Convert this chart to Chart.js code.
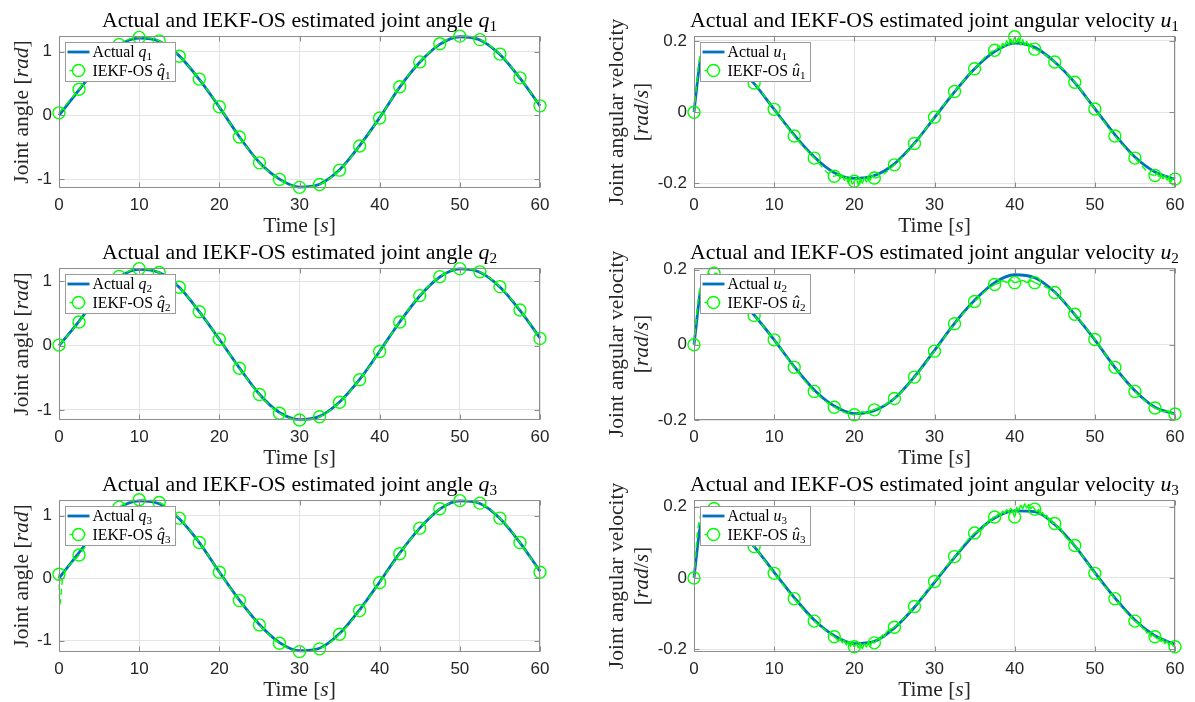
<!DOCTYPE html>
<html>
<head>
<meta charset="utf-8">
<script src="https://cdn.jsdelivr.net/npm/chart.js@4/dist/chart.umd.min.js"></script>
<style>
  body { margin: 0; background: #fff; overflow: hidden; }
  #fig { position: relative; width: 1195px; height: 702px; background: #fff; overflow: hidden; }
  #fig canvas { position: absolute; }
</style>
</head>
<body>
<div id="fig"></div>
<script>
// ---- data ----
const tMark = [0, 2.5, 5, 7.5, 10, 12.5, 15, 17.5, 20, 22.5, 25, 27.5, 30, 32.5, 35, 37.5, 40, 42.5, 45, 47.5, 50, 52.5, 55, 57.5, 60];
const xTicks = [0, 10, 20, 30, 40, 50, 60];
const xTickLabels = ['0', '10', '20', '30', '40', '50', '60'];
const qTicks = [-1, 0, 1];
const qTickLabels = ['-1', '0', '1'];
const uTicks = [-0.2, 0, 0.2];
const uTickLabels = ['-0.2', '0', '0.2'];

const q1Act = [0.0, 0.40, 0.79, 1.10, 1.215, 1.165, 0.935, 0.565, 0.13, -0.335, -0.74, -1.0, -1.125, -1.08, -0.855, -0.475, -0.035, 0.445, 0.835, 1.115, 1.235, 1.185, 0.955, 0.585, 0.15];
const q1Est = [0.04, 0.41, 0.79, 1.115, 1.225, 1.17, 0.93, 0.57, 0.135, -0.34, -0.745, -1.005, -1.13, -1.085, -0.86, -0.48, -0.04, 0.45, 0.84, 1.125, 1.245, 1.19, 0.963, 0.59, 0.15];

const q2Act = [0.0, 0.38, 0.78, 1.07, 1.19, 1.14, 0.91, 0.53, 0.1, -0.345, -0.755, -1.04, -1.15, -1.1, -0.875, -0.525, -0.085, 0.37, 0.775, 1.07, 1.195, 1.145, 0.915, 0.55, 0.12];
const q2Est = [0.01, 0.37, 0.78, 1.08, 1.2, 1.14, 0.91, 0.53, 0.1, -0.35, -0.76, -1.05, -1.157, -1.106, -0.88, -0.53, -0.09, 0.37, 0.78, 1.075, 1.2, 1.15, 0.92, 0.556, 0.114];

const q3Act = [0.0, 0.41, 0.82, 1.12, 1.235, 1.19, 0.95, 0.57, 0.1, -0.35, -0.74, -1.03, -1.16, -1.12, -0.885, -0.505, -0.06, 0.4, 0.8, 1.105, 1.235, 1.195, 0.955, 0.57, 0.11];
const q3Est = [0.064, 0.37, 0.8, 1.136, 1.253, 1.21, 0.96, 0.57, 0.096, -0.358, -0.747, -1.04, -1.174, -1.13, -0.896, -0.518, -0.07, 0.39, 0.8, 1.109, 1.24, 1.2, 0.96, 0.57, 0.096];
const q3EstStart = [[0.1, -0.42], [0.4, -0.05], [0.8, 0.12], [1.25, 0.2]];

const u1Act = [0, 0.176, 0.136, 0.08, 0.008, -0.064, -0.126, -0.17, -0.186, -0.178, -0.145, -0.087, -0.015, 0.057, 0.122, 0.17, 0.194, 0.182, 0.141, 0.083, 0.01, -0.063, -0.126, -0.168, -0.188];
const u1Est = [0, 0.175, 0.135, 0.082, 0.008, -0.067, -0.129, -0.18, -0.194, -0.185, -0.148, -0.088, -0.014, 0.058, 0.122, 0.174, 0.212, 0.177, 0.141, 0.084, 0.009, -0.067, -0.129, -0.178, -0.188];

const u2Act = [0, 0.178, 0.138, 0.079, 0.013, -0.058, -0.12, -0.163, -0.183, -0.175, -0.143, -0.085, -0.015, 0.057, 0.118, 0.165, 0.186, 0.178, 0.14, 0.08, 0.013, -0.06, -0.122, -0.166, -0.184];
const u2Est = [0, 0.19, 0.14, 0.078, 0.013, -0.06, -0.124, -0.166, -0.186, -0.173, -0.143, -0.086, -0.017, 0.056, 0.115, 0.16, 0.165, 0.165, 0.139, 0.081, 0.014, -0.06, -0.124, -0.168, -0.184];

const u3Act = [0, 0.182, 0.148, 0.088, 0.016, -0.055, -0.118, -0.162, -0.184, -0.178, -0.14, -0.082, -0.012, 0.058, 0.122, 0.168, 0.188, 0.186, 0.15, 0.09, 0.015, -0.056, -0.118, -0.162, -0.186];
const u3Est = [0, 0.195, 0.15, 0.088, 0.013, -0.058, -0.121, -0.165, -0.193, -0.182, -0.138, -0.08, -0.01, 0.06, 0.126, 0.171, 0.171, 0.193, 0.153, 0.091, 0.013, -0.058, -0.121, -0.165, -0.193];

// fast start of the velocities (t = 0.25 .. 1.5 s)
const tRise = [0.25, 0.5, 0.75, 1, 1.5];
const u1ActRise = [0.05, 0.1, 0.14, 0.165, 0.178];
const u1EstRise = [0.06, 0.12, 0.158, 0.172, 0.18];
const u2ActRise = [0.045, 0.095, 0.135, 0.16, 0.176];
const u2EstRise = [0.06, 0.115, 0.152, 0.17, 0.185];
const u3ActRise = [0.05, 0.1, 0.14, 0.165, 0.18];
const u3EstRise = [0.08, 0.14, 0.17, 0.18, 0.188];

// jitter of the estimates around the extrema
const u1Noise = [[18, -0.174], [18.25, -0.186], [18.5, -0.176], [18.75, -0.192], [19, -0.181], [19.25, -0.199], [19.5, -0.184], [19.75, -0.202],
  [20.25, -0.185], [20.5, -0.205], [20.75, -0.187], [21, -0.2], [21.25, -0.183], [21.5, -0.196], [21.75, -0.18], [22, -0.191], [22.25, -0.177],
  [37.75, 0.175], [38, 0.187], [38.25, 0.178], [38.5, 0.194], [38.75, 0.183], [39, 0.201], [39.25, 0.187], [39.5, 0.206], [39.75, 0.191],
  [40.25, 0.197], [40.5, 0.209], [40.75, 0.189], [41, 0.204], [41.25, 0.187], [41.5, 0.199], [41.75, 0.184], [42, 0.193], [42.25, 0.179],
  [57.75, -0.171], [58, -0.181], [58.25, -0.173], [58.5, -0.187], [58.75, -0.177], [59, -0.191], [59.25, -0.181], [59.5, -0.196], [59.75, -0.185]];
const u2Noise = [[20.5, -0.183], [21, -0.178], [21.5, -0.182], [22, -0.176],
  [38, 0.163], [38.5, 0.17], [39, 0.166], [39.5, 0.172], [40.5, 0.168], [41, 0.171], [41.5, 0.166], [42, 0.17],
  [58, -0.172], [58.5, -0.178], [59, -0.176], [59.5, -0.182]];
const u3Noise = [[17.75, -0.17], [18, -0.176], [18.25, -0.168], [18.5, -0.182], [18.75, -0.174], [19, -0.188], [19.25, -0.178], [19.5, -0.192],
  [19.75, -0.18], [20.25, -0.184], [20.5, -0.196], [20.75, -0.182], [21, -0.198], [21.25, -0.184], [21.5, -0.194], [21.75, -0.178], [22, -0.19],
  [22.25, -0.176], [22.75, -0.176], [23, -0.168], [23.25, -0.172], [23.5, -0.16], [23.75, -0.164], [24, -0.152],
  [36, 0.138], [36.25, 0.15], [36.5, 0.148], [36.75, 0.162], [37, 0.158], [37.25, 0.168], [37.75, 0.172], [38, 0.18], [38.25, 0.174],
  [38.5, 0.188], [38.75, 0.18], [39, 0.192], [39.25, 0.184], [39.5, 0.196], [39.75, 0.186], [40.25, 0.198], [40.5, 0.19], [40.75, 0.204],
  [41, 0.194], [41.25, 0.208], [41.5, 0.196], [41.75, 0.206], [42, 0.194], [42.25, 0.2], [42.75, 0.186], [43, 0.192], [43.25, 0.178],
  [43.5, 0.184], [43.75, 0.17], [44, 0.176], [44.25, 0.162], [44.5, 0.166], [44.75, 0.154], [45.25, 0.146], [45.5, 0.138], [45.75, 0.14], [46, 0.126],
  [55.25, -0.124], [55.5, -0.13], [55.75, -0.134], [56, -0.142], [56.25, -0.144], [56.5, -0.155], [56.75, -0.152], [57, -0.164], [57.25, -0.16],
  [57.75, -0.17], [58, -0.166], [58.25, -0.178], [58.5, -0.172], [58.75, -0.184], [59, -0.176], [59.25, -0.188], [59.5, -0.18], [59.75, -0.19]];

// ---- style ----
const BLUE = '#0072BD';
const GREEN = '#00FF00';
const BOX = '#8c8c8c';
const GRID = '#e4e4e4';
const TXT = '#262626';
const SERIF = '"Liberation Serif", "Times New Roman", serif';
const SANS = '"Liberation Sans", Arial, sans-serif';
const TITLE_SIZE = 21.8;
const LABEL_SIZE = 21.5;
const LEG_SIZE = 15.8;

function pts(ts, vs, mark) {
  return ts.map((t, i) => ({ x: t, y: vs[i], m: mark, n: false }));
}
function merge(...lists) {
  return [].concat(...lists).sort((a, b) => a.x - b.x);
}
function pairs(list, noisy) {
  return list.map(p => ({ x: p[0], y: p[1], m: false, n: noisy }));
}

// rich text: [text, kind]  kind: r roman, i italic, sub subscript, hat italic with circumflex
function fontFor(kind, size) {
  if (kind === 'i' || kind === 'hat') return 'italic ' + size + 'px ' + SERIF;
  if (kind === 'sub') return (size * 0.7).toFixed(1) + 'px ' + SERIF;
  return size + 'px ' + SERIF;
}
function richWidth(ctx, parts, size) {
  let w = 0;
  parts.forEach(([t, k]) => { ctx.font = fontFor(k, size); w += ctx.measureText(t).width; });
  return w;
}
function drawRich(ctx, parts, x, y, size, align) {
  let cx = align === 'center' ? x - richWidth(ctx, parts, size) / 2 : x;
  ctx.textBaseline = 'alphabetic';
  ctx.textAlign = 'left';
  parts.forEach(([t, k]) => {
    ctx.font = fontFor(k, size);
    const w = ctx.measureText(t).width;
    const dy = k === 'sub' ? size * 0.2 : 0;
    ctx.fillText(t, cx, y + dy);
    if (k === 'hat') {
      ctx.font = size + 'px ' + SERIF;
      const hw = ctx.measureText('\u02C6').width;
      ctx.fillText('\u02C6', cx + w / 2 - hw / 2 + size * 0.06, y - size * 0.02);
    }
    cx += w;
  });
}

function sub(n) { return [String(n), 'sub']; }

const panels = [
  { cell: { x: 0, y: 0, w: 590, h: 250 }, plot: { L: 59, R: 540, T: 36, B: 188 }, yMin: -1.14, yMax: 1.247,
    yTicks: qTicks, yTickLabels: qTickLabels,
    title: [['Actual and IEKF-OS estimated joint angle ', 'r'], ['q', 'i'], sub(1)],
    ylabel: [[['Joint angle [', 'r'], ['rad', 'i'], [']', 'r']]],
    leg1: [['Actual ', 'r'], ['q', 'i'], sub(1)], leg2: [['IEKF-OS ', 'r'], ['q', 'hat'], sub(1)],
    act: pts(tMark, q1Act, false), est: pts(tMark, q1Est, true) },
  { cell: { x: 590, y: 0, w: 605, h: 250 }, plot: { L: 694, R: 1175, T: 36, B: 188 }, yMin: -0.213, yMax: 0.214,
    yTicks: uTicks, yTickLabels: uTickLabels,
    title: [['Actual and IEKF-OS estimated joint angular velocity ', 'r'], ['u', 'i'], sub(1)],
    ylabel: [[['Joint angular velocity', 'r']], [['[', 'r'], ['rad', 'i'], ['/', 'r'], ['s', 'i'], [']', 'r']]],
    leg1: [['Actual ', 'r'], ['u', 'i'], sub(1)], leg2: [['IEKF-OS ', 'r'], ['u', 'hat'], sub(1)],
    act: merge(pts(tMark, u1Act, false), pts(tRise, u1ActRise, false)),
    est: merge(pts(tMark, u1Est, true), pts(tRise, u1EstRise, false), pairs(u1Noise, true)) },
  { cell: { x: 0, y: 234, w: 590, h: 250 }, plot: { L: 59, R: 540, T: 268, B: 420 }, yMin: -1.156, yMax: 1.21,
    yTicks: qTicks, yTickLabels: qTickLabels,
    title: [['Actual and IEKF-OS estimated joint angle ', 'r'], ['q', 'i'], sub(2)],
    ylabel: [[['Joint angle [', 'r'], ['rad', 'i'], [']', 'r']]],
    leg1: [['Actual ', 'r'], ['q', 'i'], sub(2)], leg2: [['IEKF-OS ', 'r'], ['q', 'hat'], sub(2)],
    act: pts(tMark, q2Act, false), est: pts(tMark, q2Est, true) },
  { cell: { x: 590, y: 234, w: 605, h: 250 }, plot: { L: 694, R: 1175, T: 268, B: 420 }, yMin: -0.2, yMax: 0.204,
    yTicks: uTicks, yTickLabels: uTickLabels,
    title: [['Actual and IEKF-OS estimated joint angular velocity ', 'r'], ['u', 'i'], sub(2)],
    ylabel: [[['Joint angular velocity', 'r']], [['[', 'r'], ['rad', 'i'], ['/', 'r'], ['s', 'i'], [']', 'r']]],
    leg1: [['Actual ', 'r'], ['u', 'i'], sub(2)], leg2: [['IEKF-OS ', 'r'], ['u', 'hat'], sub(2)],
    act: merge(pts(tMark, u2Act, false), pts(tRise, u2ActRise, false)),
    est: merge(pts(tMark, u2Est, true), pts(tRise, u2EstRise, false), pairs(u2Noise, true)) },
  { cell: { x: 0, y: 468, w: 590, h: 234 }, plot: { L: 59, R: 540, T: 500, B: 652 }, yMin: -1.18, yMax: 1.25,
    yTicks: qTicks, yTickLabels: qTickLabels,
    title: [['Actual and IEKF-OS estimated joint angle ', 'r'], ['q', 'i'], sub(3)],
    ylabel: [[['Joint angle [', 'r'], ['rad', 'i'], [']', 'r']]],
    leg1: [['Actual ', 'r'], ['q', 'i'], sub(3)], leg2: [['IEKF-OS ', 'r'], ['q', 'hat'], sub(3)],
    act: pts(tMark, q3Act, false), est: merge(pts(tMark, q3Est, true), pairs(q3EstStart, false)) },
  { cell: { x: 590, y: 468, w: 605, h: 234 }, plot: { L: 694, R: 1175, T: 500, B: 652 }, yMin: -0.2076, yMax: 0.2187,
    yTicks: uTicks, yTickLabels: uTickLabels,
    title: [['Actual and IEKF-OS estimated joint angular velocity ', 'r'], ['u', 'i'], sub(3)],
    ylabel: [[['Joint angular velocity', 'r']], [['[', 'r'], ['rad', 'i'], ['/', 'r'], ['s', 'i'], [']', 'r']]],
    leg1: [['Actual ', 'r'], ['u', 'i'], sub(3)], leg2: [['IEKF-OS ', 'r'], ['u', 'hat'], sub(3)],
    act: merge(pts(tMark, u3Act, false), pts(tRise, u3ActRise, false)),
    est: merge(pts(tMark, u3Est, true), pts(tRise, u3EstRise, false), pairs(u3Noise, true)) }
];

// box, inner ticks, legend and LaTeX-like labels
function decor(p) {
  return {
    id: 'decor',
    afterDraw(chart) {
      const ctx = chart.ctx;
      const a = chart.chartArea;
      const xs = chart.scales.x, ys = chart.scales.y;
      ctx.save();

      // axes box + inward ticks
      ctx.strokeStyle = BOX;
      ctx.lineWidth = 1;
      const l = Math.round(a.left) + 0.5, r = Math.round(a.right) - 0.5;
      const t = Math.round(a.top) + 0.5, b = Math.round(a.bottom) - 0.5;
      ctx.beginPath();
      xTicks.forEach(v => {
        const px = Math.round(xs.getPixelForValue(v)) + 0.5;
        ctx.moveTo(px, b); ctx.lineTo(px, b - 5);
        ctx.moveTo(px, t); ctx.lineTo(px, t + 5);
      });
      p.yTicks.forEach(v => {
        const py = Math.round(ys.getPixelForValue(v)) + 0.5;
        ctx.moveTo(l, py); ctx.lineTo(l + 5, py);
        ctx.moveTo(r, py); ctx.lineTo(r - 5, py);
      });
      ctx.stroke();
      ctx.strokeRect(l, t, r - l, b - t);

      // legend
      const tw = Math.max(richWidth(ctx, p.leg1, LEG_SIZE), richWidth(ctx, p.leg2, LEG_SIZE));
      const bx = Math.round(a.left) + 6.5, by = Math.round(a.top) + 6.5;
      const bw = Math.round(27 + tw + 5), bh = 39;
      ctx.fillStyle = '#fff';
      ctx.fillRect(bx, by, bw, bh);
      ctx.strokeStyle = '#9a9a9a';
      ctx.strokeRect(bx, by, bw, bh);
      const r1 = by + 9.5, r2 = by + 28;
      ctx.strokeStyle = BLUE; ctx.lineWidth = 2.8;
      ctx.beginPath(); ctx.moveTo(bx + 2, r1); ctx.lineTo(bx + 24, r1); ctx.stroke();
      ctx.strokeStyle = GREEN; ctx.lineWidth = 1.4;
      ctx.setLineDash([6, 4]);
      ctx.beginPath(); ctx.moveTo(bx + 4, r2); ctx.lineTo(bx + 24, r2); ctx.stroke();
      ctx.setLineDash([]);
      ctx.fillStyle = '#fff';
      ctx.beginPath(); ctx.arc(bx + 13, r2, 6, 0, Math.PI * 2); ctx.fill(); ctx.stroke();
      ctx.fillStyle = '#000';
      drawRich(ctx, p.leg1, bx + 27, r1 + 5, LEG_SIZE, 'left');
      drawRich(ctx, p.leg2, bx + 27, r2 + 5, LEG_SIZE, 'left');

      // title
      const cx = (a.left + a.right) / 2;
      ctx.fillStyle = '#000';
      drawRich(ctx, p.title, cx, a.top - 9.5, TITLE_SIZE, 'center');

      // x label
      ctx.fillStyle = TXT;
      drawRich(ctx, [['Time [', 'r'], ['s', 'i'], [']', 'r']], cx, a.bottom + 44, LABEL_SIZE, 'center');

      // y label (rotated)
      const cy = (a.top + a.bottom) / 2;
      const offs = p.ylabel.length === 1 ? [31.5] : [71.5, 46];
      p.ylabel.forEach((line, i) => {
        ctx.save();
        ctx.translate(a.left - offs[i], cy);
        ctx.rotate(-Math.PI / 2);
        drawRich(ctx, line, 0, 0, LABEL_SIZE, 'center');
        ctx.restore();
      });
      ctx.restore();
    }
  };
}

const fig = document.getElementById('fig');
panels.forEach(p => {
  const c = document.createElement('canvas');
  c.width = p.cell.w; c.height = p.cell.h;
  c.style.left = p.cell.x + 'px'; c.style.top = p.cell.y + 'px';
  fig.appendChild(c);
  const yW = p.plot.L - p.cell.x;
  const xH = p.cell.y + p.cell.h - p.plot.B;
  new Chart(c, {
    type: 'line',
    data: {
      datasets: [
        { label: 'IEKF-OS', data: p.est, borderColor: GREEN, borderWidth: 1.4, borderDash: [6, 4],
          cubicInterpolationMode: 'monotone', clip: false,
          // dense jitter reads as a solid green band in the reference
          segment: { borderDash: s => (s.p0.raw && s.p1.raw && (s.p0.raw.n || s.p1.raw.n) ? [] : [6, 4]) },
          pointRadius: ctx => (ctx.raw && ctx.raw.m ? 6 : 0), pointStyle: 'circle',
          pointBorderColor: GREEN, pointBorderWidth: 1.4, pointBackgroundColor: 'rgba(0,0,0,0)' },
        { label: 'Actual', data: p.act, borderColor: BLUE, borderWidth: 2.8,
          cubicInterpolationMode: 'monotone', clip: false, pointRadius: 0 }
      ]
    },
    options: {
      responsive: false, animation: false, devicePixelRatio: 1, events: [],
      layout: { padding: { left: 0, top: p.plot.T - p.cell.y, right: p.cell.x + p.cell.w - p.plot.R, bottom: 0 } },
      plugins: { legend: { display: false }, tooltip: { enabled: false }, title: { display: false } },
      scales: {
        x: {
          type: 'linear', min: 0, max: 60,
          afterBuildTicks: s => { s.ticks = xTicks.map(v => ({ value: v })); },
          afterFit: s => { s.height = xH; },
          ticks: { callback: (v, i) => xTickLabels[i], autoSkip: false, maxRotation: 0,
            font: { family: SANS, size: 17 }, color: TXT, padding: 7 },
          grid: { color: GRID, drawTicks: false },
          border: { display: false }
        },
        y: {
          type: 'linear', min: p.yMin, max: p.yMax,
          afterBuildTicks: s => { s.ticks = p.yTicks.map(v => ({ value: v })); },
          afterFit: s => { s.width = yW; },
          ticks: { callback: (v, i) => p.yTickLabels[i], font: { family: SANS, size: 17 }, color: TXT, padding: 7 },
          grid: { color: GRID, drawTicks: false },
          border: { display: false }
        }
      }
    },
    plugins: [decor(p)]
  });
});
</script>
</body>
</html>
